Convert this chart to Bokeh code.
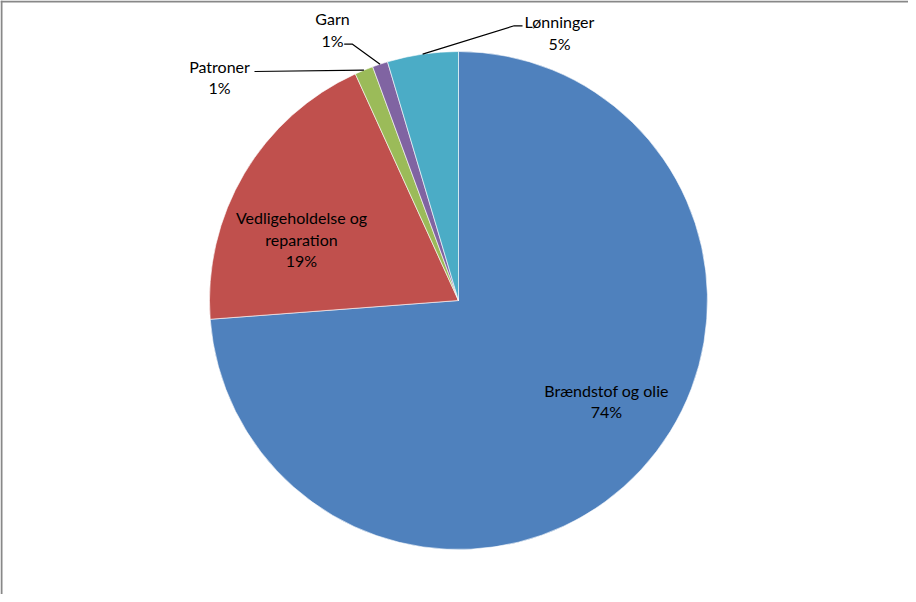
import math
from bokeh.plotting import figure
from bokeh.models import Span, ColumnDataSource
from bokeh.core.properties import value
from bokeh.embed import file_html
from bokeh.resources import INLINE

# ---- data ----
categories = ["Brændstof og olie", "Vedligeholdelse og reparation", "Patroner", "Garn", "Lønninger"]
shares = [73.8, 19.4, 1.2, 1.0, 4.6]
colors = ["#4F81BD", "#C0504D", "#9BBB59", "#8064A2", "#4BACC6"]
label_lines = [["Brændstof og olie"], ["Vedligeholdelse og", "reparation"], ["Patroner"], ["Garn"], ["Lønninger"]]

# ---- layout (page-pixel-like data units) ----
W, H = 908, 594
CX, CY, R = 458, 294, 249
# label block centres
label_pos = [(606, 193.5), (301, 355.3), (219, 517.3), (332, 565.2), (559, 562.0)]
# leader anchors near label (None = inside slice)
leader_pts = [None, None, [(254, 523)], [(343.7, 550.3), (352, 550.3)], [(522, 568.7), (513.7, 568.7)]]
FONT = "Lato"
FS = 16
LINE_H = 21.5

p = figure(width=W, height=H, x_range=(0, W), y_range=(0, H),
           output_backend="svg", toolbar_location=None, min_border=0)
p.axis.visible = False
p.grid.visible = False
p.outline_line_color = None
p.background_fill_color = "white"
p.border_fill_color = "white"

total = sum(shares)
starts, ends, mids = [], [], []
cum = 0.0
for s in shares:
    a0 = math.pi / 2 - 2 * math.pi * cum / total
    cum += s
    a1 = math.pi / 2 - 2 * math.pi * cum / total
    starts.append(a0)
    ends.append(a1)
    mids.append((a0 + a1) / 2)

src = ColumnDataSource(dict(x=[CX] * len(shares), y=[CY] * len(shares),
                            start=starts, end=ends, color=colors))
p.wedge(x="x", y="y", radius=R, start_angle="start", end_angle="end",
        direction="clock", fill_color="color", line_color="white", line_width=0.6, source=src)

# leader lines
for i, pts in enumerate(leader_pts):
    if pts is None:
        continue
    ex = CX + R * math.cos(mids[i])
    ey = CY + R * math.sin(mids[i])
    xs = [q[0] for q in pts] + [ex]
    ys = [q[1] for q in pts] + [ey]
    p.line(xs, ys, line_color="black", line_width=1.2)

# labels
tx, ty, tt = [], [], []
for i, lines in enumerate(label_lines):
    allines = lines + [f"{round(shares[i])}%"]
    n = len(allines)
    cx, cy = label_pos[i]
    for k, t in enumerate(allines):
        tx.append(cx)
        ty.append(cy + (n - 1) / 2 * LINE_H - k * LINE_H)
        tt.append(t)
p.text(x=tx, y=ty, text=tt, text_font=value(FONT), text_font_size=f"{FS}px",
       text_align="center", text_baseline="middle", text_color="black")

# chart border (left and top visible)
p.add_layout(Span(location=1, dimension="height", line_color="#888888", line_width=2))
p.add_layout(Span(location=H - 1, dimension="width", line_color="#888888", line_width=2))

open("out.html", "w").write(file_html(p, INLINE))
